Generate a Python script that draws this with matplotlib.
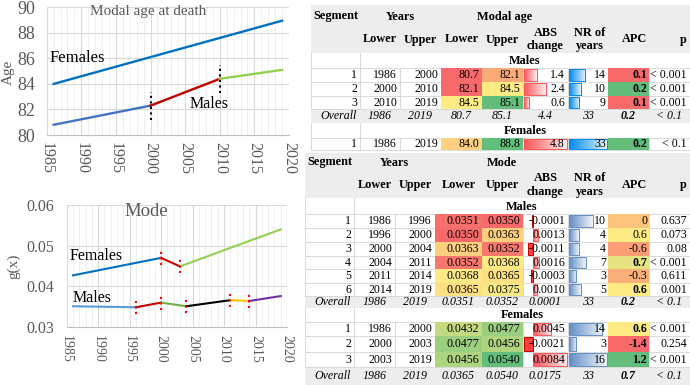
import numpy as np
import matplotlib
matplotlib.use("Agg")
import matplotlib.pyplot as plt
from matplotlib.colors import LinearSegmentedColormap
from matplotlib.patches import Rectangle

plt.rcParams['font.family'] = ['Liberation Serif', 'DejaVu Serif']

W, H = 690, 385
GREY_TXT = '#595959'

# ---------------- chart data ----------------
age_m_years = [1986, 2000, 2010, 2019]
age_m = [80.8, 82.3, 84.4, 85.1]
age_f_years = [1986, 2019]
age_f = [84.0, 88.95]

mode_m_years = [1986, 1996, 2000, 2004, 2011, 2014, 2019]
mode_m = [0.0351, 0.03485, 0.0360, 0.0351, 0.0366, 0.0364, 0.0376]
mode_f_years = [1986, 2000, 2003, 2019]
mode_f = [0.0427, 0.0470, 0.0449, 0.0540]

# ---------------- table 1: modal age ----------------
t1_m_lo_year = [1986, 2000, 2010]
t1_m_up_year = [2000, 2010, 2019]
t1_m_lo = [80.7, 82.1, 84.5]
t1_m_up = [82.1, 84.5, 85.1]
t1_m_abs = [1.4, 2.4, 0.6]
t1_m_nr = [14, 10, 9]
t1_m_apc = [0.1, 0.2, 0.1]
t1_m_p = ['< 0.001', '< 0.001', '< 0.001']
t1_m_overall = ['1986', '2019', '80.7', '85.1', '4.4', '33', '0.2', '< 0.1']

t1_f_lo_year = [1986]
t1_f_up_year = [2019]
t1_f_lo = [84.0]
t1_f_up = [88.8]
t1_f_abs = [4.8]
t1_f_nr = [33]
t1_f_apc = [0.2]
t1_f_p = ['< 0.1']

# ---------------- table 2: mode ----------------
t2_m_lo_year = [1986, 1996, 2000, 2004, 2011, 2014]
t2_m_up_year = [1996, 2000, 2004, 2011, 2014, 2019]
t2_m_lo = [0.0351, 0.0350, 0.0363, 0.0352, 0.0368, 0.0365]
t2_m_up = [0.0350, 0.0363, 0.0352, 0.0368, 0.0365, 0.0375]
t2_m_abs = [-0.0001, 0.0013, -0.0011, 0.0016, -0.0003, 0.0010]
t2_m_nr = [10, 4, 4, 7, 3, 5]
t2_m_apc = [0, 0.6, -0.6, 0.7, -0.3, 0.6]
t2_m_p = ['0.637', '0.073', '0.08', '< 0.001', '0.611', '0.001']
t2_m_overall = ['1986', '2019', '0.0351', '0.0352', '0.0001', '33', '0.2', '< 0.1']

t2_f_lo_year = [1986, 2000, 2003]
t2_f_up_year = [2000, 2003, 2019]
t2_f_lo = [0.0432, 0.0477, 0.0456]
t2_f_up = [0.0477, 0.0456, 0.0540]
t2_f_abs = [0.0045, -0.0021, 0.0084]
t2_f_nr = [14, 3, 16]
t2_f_apc = [0.6, -1.4, 1.2]
t2_f_p = ['< 0.001', '0.254', '< 0.001']
t2_f_overall = ['1986', '2019', '0.0365', '0.0540', '0.0175', '33', '0.7', '< 0.1']

fig = plt.figure(figsize=(W / 100, H / 100), dpi=100)


def px_axes(x0, y0, x1, y1):
    return fig.add_axes([x0 / W, 1 - y1 / H, (x1 - x0) / W, (y1 - y0) / H])


def style_chart(ax, ylo, yhi, ystep, ysize, xsize, ypad, xpad, yfmt):
    ax.set_xlim(1985, 2020)
    ax.set_ylim(ylo, yhi)
    ax.set_xticks(range(1985, 2021, 5))
    ax.set_xticks(range(1985, 2021), minor=True)
    ax.set_yticks(np.arange(ylo, yhi + ystep / 2, ystep))
    ax.set_yticklabels([yfmt.format(v) for v in np.arange(ylo, yhi + ystep / 2, ystep)])
    ax.grid(which='minor', axis='x', color='#EFEFEF', lw=0.7)
    ax.grid(which='major', axis='x', color='#D9D9D9', lw=0.8)
    ax.grid(which='major', axis='y', color='#D9D9D9', lw=0.8)
    ax.set_axisbelow(True)
    for s in ['top', 'right', 'left']:
        ax.spines[s].set_visible(False)
    ax.spines['bottom'].set_color('#BFBFBF')
    ax.tick_params(which='both', length=0, colors=GREY_TXT)
    ax.tick_params(axis='y', labelsize=ysize, pad=ypad)
    ax.tick_params(axis='x', labelsize=xsize, pad=xpad, labelrotation=270)


# ---------------- top chart: modal age at death ----------------
ax1 = px_axes(46.7, 7.3, 289, 135)
style_chart(ax1, 80, 90, 2, 13, 11.5, 8, 5, '{:.0f}')
ax1.plot(age_f_years, age_f, color='#0070C0', lw=1.7)
seg_cols1 = ['#4472C4', '#C00000', '#92D050']
for i, c in enumerate(seg_cols1):
    ax1.plot(age_m_years[i:i + 2], age_m[i:i + 2], color=c, lw=1.7)
for x, y in zip(age_m_years[1:-1], age_m[1:-1]):
    ax1.plot([x, x], [y - 1.1, y + 1.1], ':', color='black', lw=1.5)
ax1.text(1985.4, 86.0, 'Females', fontsize=12, va='center')
ax1.text(2005.7, 82.45, 'Males', fontsize=11.5, va='center')
ax1.text(1999.6, 89.65, 'Modal age at death', fontsize=11, va='center', ha='center', color=GREY_TXT)
fig.text(8 / W, 1 - 72 / H, 'Age', rotation=90, fontsize=11, color=GREY_TXT, ha='center', va='center')

# ---------------- bottom chart: mode ----------------
ax2 = px_axes(66.7, 205, 287, 327)
style_chart(ax2, 0.03, 0.06, 0.01, 11.5, 10, 9, 6, '{:.2f}')
seg_cols_f = ['#0070C0', '#C00000', '#92D050']
for i, c in enumerate(seg_cols_f):
    ax2.plot(mode_f_years[i:i + 2], mode_f[i:i + 2], color=c, lw=1.5)
seg_cols_m = ['#5B9BD5', '#C00000', '#70AD47', 'black', '#FFC000', '#7030A0']
for i, c in enumerate(seg_cols_m):
    ax2.plot(mode_m_years[i:i + 2], mode_m[i:i + 2], color=c, lw=1.5)
for yrs, vals in [(mode_m_years, mode_m), (mode_f_years, mode_f)]:
    for x, y in zip(yrs[1:-1], vals[1:-1]):
        ax2.plot([x, x], [y - 0.0017, y + 0.0017], ':', color='red', lw=1.5)
ax2.text(1985.5, 0.0475, 'Females', fontsize=11.5, va='center')
ax2.text(1985.9, 0.0371, 'Males', fontsize=11.5, va='center')
ax2.text(1997.6, 0.0583, 'Mode', fontsize=13.5, va='center', ha='center', color=GREY_TXT)
fig.text(14 / W, 1 - 266 / H, 'g(x)', rotation=90, fontsize=11, color=GREY_TXT, ha='center', va='center')

# ---------------- tables ----------------
axt = px_axes(300, 0, 690, 385)
axt.set_axis_off()
axt.patch.set_visible(False)

FS = 8.6
HFS = 8.8
HEAD_BG = '#EDEDED'
LINE = '#D9D9D9'
RYG = LinearSegmentedColormap.from_list('ryg', ['#F8696B', '#FFEB84', '#63BE7B'])


def scale_color(v, lo, mid, hi):
    return RYG(np.interp(v, [lo, mid, hi], [0, 0.5, 1]))


def txt(x, y, s, ha='right', bold=False, italic=False, size=FS):
    axt.text(x, y, s, ha=ha, va='center', fontsize=size,
             fontweight='bold' if bold else 'normal',
             style='italic' if italic else 'normal', zorder=3)


def data_bar(x0, x1, y0, y1, v, vmin, vmax, color):
    w = x1 - x0 - 2
    zero = x0 + 1 + w * (-vmin) / (vmax - vmin)
    end = zero + w * v / (vmax - vmin)
    b0, b1 = y0 + 1.4, y1 - 1.4
    if v >= 0:
        cm = LinearSegmentedColormap.from_list('db', [color, 'white'])
        axt.imshow(np.linspace(0, 0.9, 60)[None, :], cmap=cm, vmin=0, vmax=1,
                   extent=(zero, end, b1, b0), aspect='auto',
                   interpolation='bilinear', zorder=1.2)
        axt.add_patch(Rectangle((zero, b0), end - zero, b1 - b0, fill=False,
                                ec=color, lw=0.7, zorder=1.3))
    else:
        axt.add_patch(Rectangle((end, b0), zero - end, b1 - b0, fc='#FF3B3B',
                                ec='#C00000', lw=0.7, zorder=1.3))


def header(cols, y0, y1, ya, yb, group):
    axt.add_patch(Rectangle((cols[0], y0), cols[-1] - cols[0], y1 - y0, fc=HEAD_BG, ec='none', zorder=0))
    txt(cols[0] + 2.5, ya, 'Segment', ha='left', bold=True, size=HFS)
    txt((cols[1] + cols[3]) / 2, ya + 1, 'Years', ha='center', bold=True, size=HFS)
    txt((cols[3] + cols[6]) / 2, ya + 1, group, ha='center', bold=True, size=HFS)
    for i, s in enumerate(['Lower', 'Upper', 'Lower', 'Upper']):
        txt((cols[i + 1] + cols[i + 2]) / 2, yb, s, ha='center', bold=True, size=HFS)
    txt((cols[5] + cols[6]) / 2, yb, 'ABS\nchange', ha='center', bold=True, size=HFS)
    txt((cols[6] + cols[7]) / 2 + 2, yb, 'NR of\nyears', ha='center', bold=True, size=HFS)
    txt(cols[8] - 2, yb, 'APC', ha='right', bold=True, size=HFS)
    txt(cols[9] - 3, yb, 'p', ha='right', bold=True, size=HFS)


def label_row(cols, y0, y1, s):
    axt.plot([cols[0], cols[-1]], [y1, y1], color=LINE, lw=0.7, zorder=0.5)
    for x in (cols[0], cols[1]):
        axt.plot([x, x], [y0, y1], color=LINE, lw=0.7, zorder=0.5)
    txt((cols[1] + cols[-1]) / 2, (y0 + y1) / 2 + 0.5, s, ha='center', bold=True, size=HFS)


def overall_row(cols, y0, y1, vals):
    axt.add_patch(Rectangle((cols[0], y0), cols[-1] - cols[0], y1 - y0, fc=HEAD_BG, ec='none', zorder=0))
    yc = (y0 + y1) / 2
    txt(cols[1] - 3, yc, 'Overall', italic=True)
    for i, s in enumerate(vals):
        txt((cols[i + 1] + cols[i + 2]) / 2, yc, s, ha='center', italic=True, bold=(i == 6))


def data_rows(cols, edges, lo_y, up_y, lo, up, absv, nr, apc, p, spec):
    for i in range(len(lo)):
        y0, y1 = edges[i], edges[i + 1]
        yc = (y0 + y1) / 2 + 0.3
        # colour-scaled cells
        for j, v, sc in [(3, lo[i], spec['lo_scale']), (4, up[i], spec['up_scale']),
                         (7, apc[i], spec['apc_scale'])]:
            axt.add_patch(Rectangle((cols[j] + 0.4, y0 + 0.4), cols[j + 1] - cols[j] - 0.8,
                                    y1 - y0 - 0.8, fc=scale_color(v, *sc), ec='none', zorder=1))
        data_bar(cols[5], cols[6], y0, y1, absv[i], *spec['abs_range'], spec['abs_color'])
        data_bar(cols[6], cols[7], y0, y1, nr[i], 0, spec['nr_max'], spec['nr_color'])
        # grid lines
        axt.plot([cols[0], cols[-1]], [y1, y1], color=LINE, lw=0.7, zorder=0.5)
        for x in cols:
            axt.plot([x, x], [y0, y1], color=LINE, lw=0.7, zorder=0.5)
        cells = [str(i + 1), str(lo_y[i]), str(up_y[i]),
                 spec['vfmt'].format(lo[i]), spec['vfmt'].format(up[i]),
                 spec['afmt'].format(absv[i]), str(nr[i]),
                 '0' if apc[i] == 0 else '{:.1f}'.format(apc[i]), p[i]]
        for j, s in enumerate(cells):
            pad = 2 if j in (6, 7) else 3
            txt(cols[j + 1] - pad, yc, s, bold=(j == 7 and spec['apc_bold'][i]))


# table 1
T1_COLS = [311, 360, 400, 441, 482, 523, 568, 608, 649, 690]
header(T1_COLS, 5, 53, 16, 39.5, 'Modal age')
label_row(T1_COLS, 53, 68, 'Males')
spec1 = dict(lo_scale=(82.1, 84.5, 88.8), up_scale=(79.6, 84.5, 85.1),
             apc_scale=(0.1, 0.15, 0.2), abs_range=(0, 4.8), abs_color='#FF555A',
             nr_max=33, nr_color='#008AEF', vfmt='{:.1f}', afmt='{:.1f}')
data_rows(T1_COLS, [68, 82, 96, 109], t1_m_lo_year, t1_m_up_year, t1_m_lo, t1_m_up,
          t1_m_abs, t1_m_nr, t1_m_apc, t1_m_p, dict(spec1, apc_bold=[True] * 3))
overall_row(T1_COLS, 109, 123, t1_m_overall)
label_row(T1_COLS, 123, 138, 'Females')
data_rows(T1_COLS, [138, 150], t1_f_lo_year, t1_f_up_year, t1_f_lo, t1_f_up,
          t1_f_abs, t1_f_nr, t1_f_apc, t1_f_p, dict(spec1, apc_bold=[True]))

# table 2
T2_COLS = [305, 354, 395, 435, 482, 523, 568, 608, 649, 690]
header(T2_COLS, 153, 198, 162, 185, 'Mode')
label_row(T2_COLS, 198, 214, 'Males')
spec2 = dict(lo_scale=(0.0350, 0.03665, 0.0540), up_scale=(0.0350, 0.03665, 0.0540),
             apc_scale=(-1.4, 0.6, 1.2), abs_range=(-0.0021, 0.0084), abs_color='#FF555A',
             nr_max=16, nr_color='#638EC6', vfmt='{:.4f}', afmt='{:.4f}')
data_rows(T2_COLS, [214, 228, 242, 256, 269, 283, 296], t2_m_lo_year, t2_m_up_year,
          t2_m_lo, t2_m_up, t2_m_abs, t2_m_nr, t2_m_apc, t2_m_p,
          dict(spec2, apc_bold=[False, False, False, True, False, True]))
overall_row(T2_COLS, 296, 308, t2_m_overall)
label_row(T2_COLS, 308, 322, 'Females')
data_rows(T2_COLS, [322, 336, 352, 367], t2_f_lo_year, t2_f_up_year,
          t2_f_lo, t2_f_up, t2_f_abs, t2_f_nr, t2_f_apc, t2_f_p,
          dict(spec2, apc_bold=[True, True, True]))
overall_row(T2_COLS, 367, 385, t2_f_overall)

axt.set_xlim(300, 690)
axt.set_ylim(385, 0)

fig.savefig('out.png', dpi=100)
